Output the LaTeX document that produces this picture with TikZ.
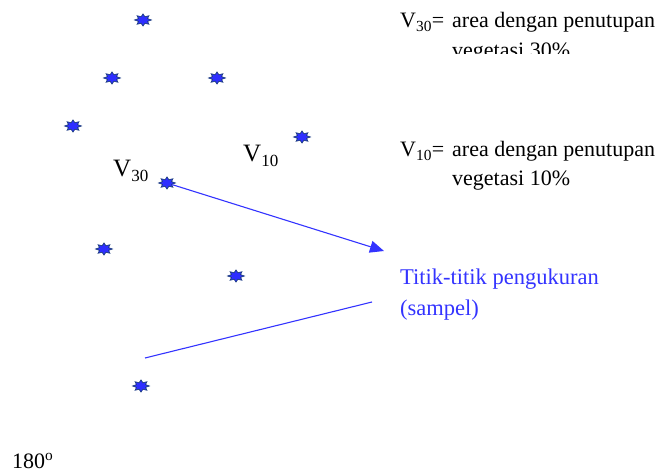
\documentclass[tikz,border=0pt]{standalone}
\usepackage{fontspec}
\setmainfont{Liberation Serif}
\usetikzlibrary{arrows.meta,shapes.geometric}
\definecolor{spotblue}{HTML}{2E2EFF}
\definecolor{spotedge}{HTML}{1F3F80}
\definecolor{noteblue}{HTML}{3333FF}
\tikzset{>=Latex,
  every node/.style={inner sep=0pt,anchor=base west},
  spot/.style={star,star points=8,star point ratio=1.7,minimum size=12pt,
    fill=spotblue,draw=spotedge,line width=.7pt,anchor=center,
    xscale=1.4,transform shape},
  legend/.style={font=\fontsize{22}{26}\selectfont},
  note/.style={text=noteblue,font=\fontsize{22.5}{27}\selectfont},
  pointer/.style={draw=noteblue,line width=1.1pt}}
\newcommand{\vsym}[1]{{\fontsize{25}{30}\selectfont V}\raisebox{-5pt}{\fontsize{17}{20}\selectfont #1}}

\begin{document}
\begin{tikzpicture}[x=1pt,y=-1pt]
\useasboundingbox (0,0) rectangle (665,473);
% sample points
\foreach \n/\p in {1/{143,20},2/{112,78},3/{217,78},4/{73,126},5/{302,137},
  6/{167,183},7/{104,249},8/{236,276},9/{141,386}}
  \node (s\n) at (\p) [spot] {};
% area labels
\node (v30) at (113,177) {\vsym{30}};
\node (v10) at (243,162) {\vsym{10}};
% legend
\node[legend] (k30) at (400,28) {V\textsubscript{30}=};
\node[legend] (d30) at (452,28) {area dengan penutupan};
\begin{scope}
\clip (380,0) rectangle (665,54);
\node[legend] (d30b) at (452,58) {vegetasi 30\%};
\end{scope}
\node[legend] (k10) at (400,157) {V\textsubscript{10}=};
\node[legend] (d10) at (452,157) {area dengan penutupan};
\node[legend] (d10b) at (452,186) {vegetasi 10\%};
% note with pointers
\node[note] (n1) at (400,285) {Titik-titik pengukuran};
\node[note] (n2) at (400,316) {(sampel)};
\coordinate (tip) at (384,251);
\coordinate (la) at (372,302);
\coordinate (lb) at (145,358);
\draw[pointer,-{Triangle[length=14pt,width=12pt]}] (s6) -- (tip);
\draw[pointer] (la) -- (lb);
\node[legend] (deg) at (12,468) {180\textsuperscript{o}};
\end{tikzpicture}
\end{document}
